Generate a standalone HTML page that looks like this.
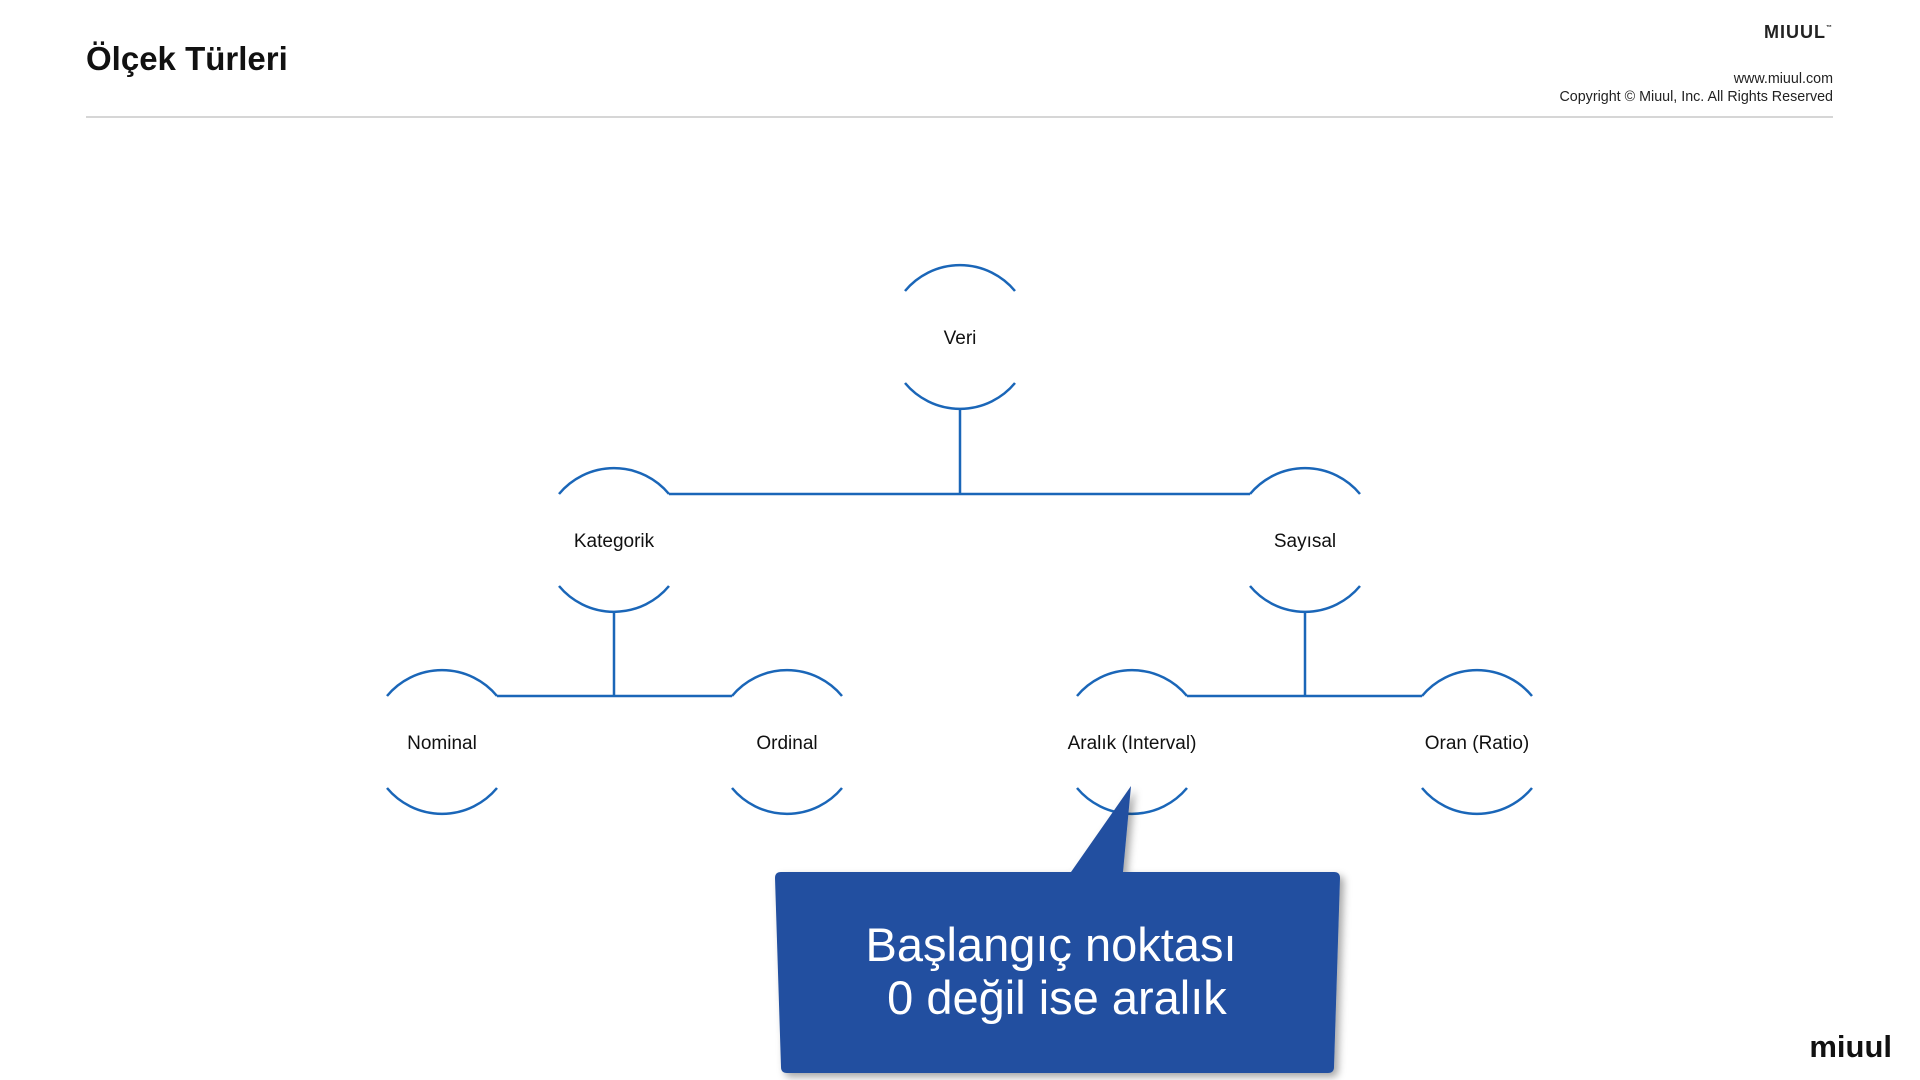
<!DOCTYPE html>
<html><head><meta charset="utf-8"><style>
html,body{margin:0;padding:0;background:#fff;}
body{width:1920px;height:1080px;overflow:hidden;position:relative;font-family:"Liberation Sans",sans-serif;}
</style></head><body>
<svg width="1920" height="1080" viewBox="0 0 1920 1080" xmlns="http://www.w3.org/2000/svg" style="position:absolute;left:0;top:0">
<defs>
<filter id="sh" x="-10%" y="-10%" width="130%" height="130%"><feDropShadow dx="4" dy="4" stdDeviation="4" flood-color="#000" flood-opacity="0.35"/></filter>
</defs>
<text x="86" y="70" font-family="Liberation Sans, sans-serif" font-weight="bold" font-size="33" fill="#111">Ölçek Türleri</text>
<text x="1833" y="38" text-anchor="end" font-family="Liberation Sans, sans-serif" font-weight="bold" font-size="18" fill="#222" letter-spacing="1">MIUUL<tspan font-size="6" dy="-9">™</tspan></text>
<text x="1833" y="83" text-anchor="end" font-family="Liberation Sans, sans-serif" font-size="14.3" fill="#222">www.miuul.com</text>
<text x="1833" y="101" text-anchor="end" font-family="Liberation Sans, sans-serif" font-size="14.3" fill="#222">Copyright © Miuul, Inc. All Rights Reserved</text>
<line x1="86" y1="117" x2="1833" y2="117" stroke="#c8c8c8" stroke-width="1.5"/>
<text x="1892" y="1057" text-anchor="end" font-family="Liberation Sans, sans-serif" font-weight="bold" font-size="31" fill="#111">miuul</text>

<g stroke="#1a66b8" stroke-width="2.5" fill="none">
<line x1="960" y1="408" x2="960" y2="494"/>
<line x1="669" y1="494" x2="1250" y2="494"/>
<line x1="614" y1="611" x2="614" y2="696"/>
<line x1="497" y1="696" x2="732" y2="696"/>
<line x1="1305" y1="611" x2="1305" y2="696"/>
<line x1="1187" y1="696" x2="1422" y2="696"/>
</g>
<g stroke="#1a66b8" stroke-width="2.5" fill="none">
<path d="M905 291 A71.5 71.5 0 0 1 1015 291 M905 383 A71.5 71.5 0 0 0 1015 383"/>
<path d="M559 494 A71.5 71.5 0 0 1 669 494 M559 586 A71.5 71.5 0 0 0 669 586"/>
<path d="M1250 494 A71.5 71.5 0 0 1 1360 494 M1250 586 A71.5 71.5 0 0 0 1360 586"/>
<path d="M387 696 A71.5 71.5 0 0 1 497 696 M387 788 A71.5 71.5 0 0 0 497 788"/>
<path d="M732 696 A71.5 71.5 0 0 1 842 696 M732 788 A71.5 71.5 0 0 0 842 788"/>
<path d="M1077 696 A71.5 71.5 0 0 1 1187 696 M1077 788 A71.5 71.5 0 0 0 1187 788"/>
<path d="M1422 696 A71.5 71.5 0 0 1 1532 696 M1422 788 A71.5 71.5 0 0 0 1532 788"/>
</g>
<g font-family="Liberation Sans, sans-serif" font-size="19" fill="#111" text-anchor="middle">
<text x="960" y="344">Veri</text>
<text x="614" y="547">Kategorik</text>
<text x="1305" y="547">Sayısal</text>
<text x="442" y="749">Nominal</text>
<text x="787" y="749">Ordinal</text>
<text x="1132" y="749">Aralık (Interval)</text>
<text x="1477" y="749">Oran (Ratio)</text>
</g>

<g filter="url(#sh)">
<path d="M781 872 L1071 872 L1131 786 L1123 872 L1334 872 Q1340 872 1340 878 L1334 1067 Q1334 1073 1328 1073 L787 1073 Q781 1073 781 1067 L775 878 Q775 872 781 872 Z" fill="#2150a0"/>
</g>
<g font-family="Liberation Sans, sans-serif" font-size="47" fill="#fff" text-anchor="middle">
<text x="1051" y="961">Başlangıç noktası</text>
<text x="1057" y="1014">0 değil ise aralık</text>
</g>
</svg>
</body></html>
